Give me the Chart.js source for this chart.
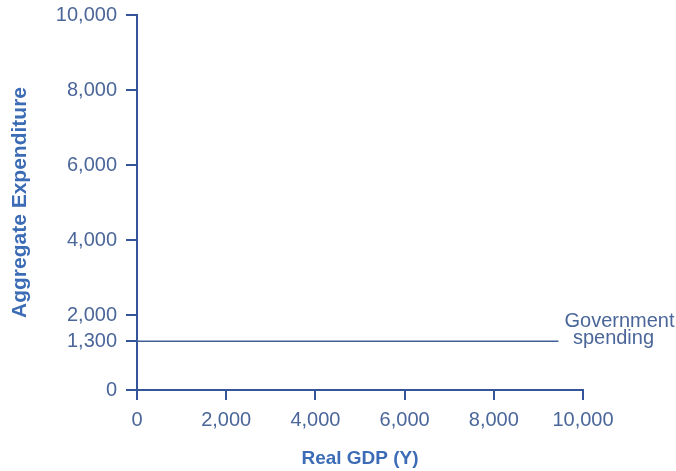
<!DOCTYPE html>
<html>
<head>
<meta charset="utf-8">
<script src="https://cdn.jsdelivr.net/npm/chart.js@4/dist/chart.umd.min.js"></script>
<style>
  html, body { margin: 0; padding: 0; background: #fff; }
  #wrap { width: 676px; height: 471px; }
</style>
</head>
<body>
<div id="wrap"><canvas id="myChart" width="676" height="471"></canvas></div>
<script>
// Values
let gdp = [0, 9450];
let govSpending = [1300, 1300];
let yTicks = [0, 1300, 2000, 4000, 6000, 8000, 10000];
let xTicks = [0, 2000, 4000, 6000, 8000, 10000];
let lineLabel = ['Government', 'spending'];

const axisColor = '#35559a';
const tickColor = '#4b6699';
const titleColor = '#3c6cb5';

// Text at the end of the line
const endLabel = {
    id: 'endLabel',
    afterDatasetsDraw(chart) {
        const meta = chart.getDatasetMeta(0);
        const last = meta.data[meta.data.length - 1];
        const ctx = chart.ctx;
        ctx.save();
        ctx.font = '20px "Liberation Sans", Arial, sans-serif';
        ctx.fillStyle = tickColor;
        ctx.textAlign = 'center';
        ctx.textBaseline = 'alphabetic';
        ctx.fillText(lineLabel[0], last.x + 61, last.y - 14);
        ctx.fillText(lineLabel[1], last.x + 55, last.y + 3);
        ctx.restore();
    }
};

let data = {
    datasets: [{
        label: 'Government spending',
        data: gdp.map((g, i) => ({ x: g, y: govSpending[i] })),
        borderColor: '#3f5f98',
        borderWidth: 1.5,
        pointRadius: 0,
        fill: false
    }]
};

const config = {
    type: 'line',
    data: data,
    plugins: [endLabel],
    options: {
        responsive: false,
        animation: false,
        layout: { padding: { top: 15, right: 93, left: 0, bottom: 0 } },
        plugins: {
            legend: { display: false },
            tooltip: { enabled: false }
        },
        scales: {
            x: {
                type: 'linear',
                min: 0,
                max: 10000,
                afterBuildTicks: s => { s.ticks = xTicks.map(v => ({ value: v })); },
                afterFit: s => { s.height = 81; },
                grid: { drawOnChartArea: false, color: axisColor, lineWidth: 2, tickLength: 10 },
                border: { color: axisColor, width: 2 },
                ticks: {
                    color: tickColor,
                    padding: 8,
                    maxRotation: 0,
                    font: { family: '"Liberation Sans", Arial, sans-serif', size: 20 },
                    callback: v => v.toLocaleString('en-US')
                },
                title: {
                    display: true,
                    text: 'Real GDP (Y)',
                    color: titleColor,
                    padding: { top: 0, bottom: 1 },
                    font: { family: '"Liberation Sans", Arial, sans-serif', size: 19, weight: 'bold' }
                }
            },
            y: {
                type: 'linear',
                min: 0,
                max: 10000,
                afterBuildTicks: s => { s.ticks = yTicks.map(v => ({ value: v })); },
                afterFit: s => { s.width = 137; s.paddingTop = 0; },
                grid: { drawOnChartArea: false, color: axisColor, lineWidth: 2, tickLength: 11 },
                border: { color: axisColor, width: 2 },
                ticks: {
                    color: tickColor,
                    padding: 9,
                    font: { family: '"Liberation Sans", Arial, sans-serif', size: 20 },
                    callback: v => v.toLocaleString('en-US')
                },
                title: {
                    display: true,
                    text: 'Aggregate Expenditure',
                    color: titleColor,
                    padding: { top: 8, bottom: 0 },
                    font: { family: '"Liberation Sans", Arial, sans-serif', size: 21, weight: 'bold' }
                }
            }
        }
    }
};

const theChart = new Chart(document.getElementById('myChart').getContext('2d'), config);
</script>
</body>
</html>
